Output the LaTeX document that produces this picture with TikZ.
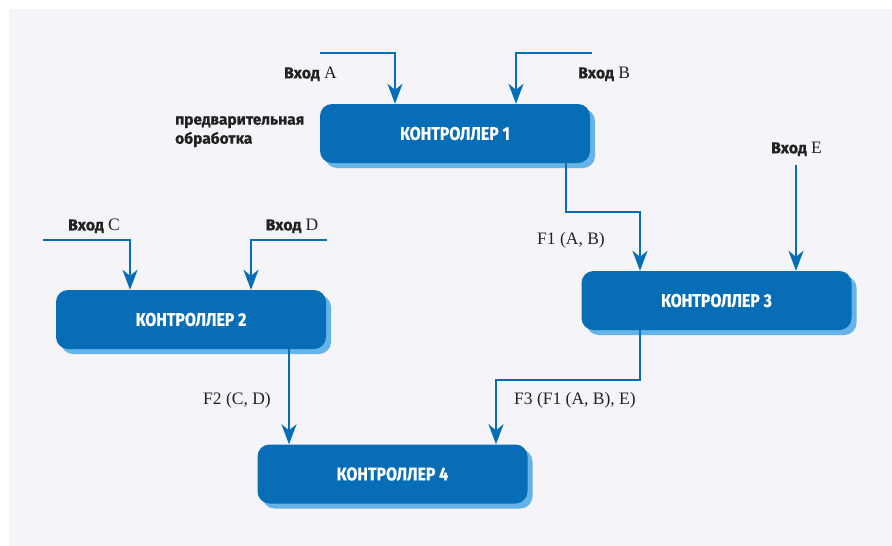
\documentclass[tikz,border=0pt]{standalone}
\usepackage{fontspec}
\setmainfont{Liberation Serif}
\newfontfamily\cond[FakeStretch=0.86, BoldFeatures={FakeBold=0.6}]{Fira Sans}
\newfontfamily\labelsans[BoldFeatures={FakeBold=0.6}]{Fira Sans}
\usetikzlibrary{arrows.meta,shadows}

\definecolor{panelbg}{HTML}{F4F4F9}
\definecolor{boxblue}{HTML}{066DB6}
\definecolor{shadeblue}{HTML}{66B3E8}
\definecolor{inkdark}{HTML}{222222}

\tikzset{
  ctrl/.style={fill=boxblue, rounded corners=12pt, minimum width=270pt,
    minimum height=59pt, inner sep=0pt, text=white,
    font=\cond\bfseries\fontsize{18.5}{20}\selectfont,
    drop shadow={shadow xshift=5pt, shadow yshift=-5pt, fill=shadeblue, opacity=1}},
  flow/.style={draw=boxblue, line width=2pt,
    -{Stealth[length=20pt, width=15pt, inset=6pt]}},
  inlabel/.style={text=inkdark, inner sep=0pt, font=\fontsize{17.5}{19}\selectfont},
  flabel/.style={text=inkdark, inner sep=0pt, font=\fontsize{17.5}{19}\selectfont},
  note/.style={text=inkdark, inner sep=0pt, align=left,
    font=\labelsans\bfseries\fontsize{15.5}{19}\selectfont}
}
\newcommand{\vxod}[1]{{\labelsans\bfseries\fontsize{16}{19}\selectfont Вход} #1}

\begin{document}
\begin{tikzpicture}[x=1pt, y=-1pt]
  \useasboundingbox (0,0) rectangle (892,546);
  % canvas and light panel
  \fill[white] (0,0) rectangle (892,546);
  \fill[panelbg] (9,9) rectangle (892,546);

  % controllers
  \node[ctrl] (k1) at (455,133.5) {КОНТРОЛЛЕР 1};
  \node[ctrl] (k2) at (191,319.5) {КОНТРОЛЛЕР 2};
  \node[ctrl] (k3) at (716.5,300.5) {КОНТРОЛЛЕР 3};
  \node[ctrl] (k4) at (392.5,474) {КОНТРОЛЛЕР 4};

  % entry points of the inputs
  \coordinate (a0) at (320,53);  \coordinate (ax) at (395,0);
  \coordinate (b0) at (592,53);  \coordinate (bx) at (516,0);
  \coordinate (c0) at (43,240);  \coordinate (cx) at (130,0);
  \coordinate (d0) at (327,240); \coordinate (dx) at (251,0);
  \coordinate (e0) at (796,165);
  % bends of the links between controllers
  \coordinate (p1) at (566,212); \coordinate (k3x) at (640,0);
  \coordinate (p2) at (289,0);
  \coordinate (p3) at (640,380); \coordinate (k4x) at (496,0);

  % input arrows
  \draw[flow] (a0) -| (ax |- k1.north);
  \draw[flow] (b0) -| (bx |- k1.north);
  \draw[flow] (c0) -| (cx |- k2.north);
  \draw[flow] (d0) -| (dx |- k2.north);
  \draw[flow] (e0) -- (e0 |- k3.north);

  % links between controllers
  \draw[flow] (p1 |- k1.south) -- (p1) -| (k3x |- k3.north);
  \draw[flow] (p2 |- k2.south) -- (p2 |- k4.north);
  \draw[flow] (p3 |- k3.south) -- (p3) -| (k4x |- k4.north);

  % input labels
  \node[inlabel, anchor=east] (la) at (337,74) {\vxod{A}};
  \node[inlabel, anchor=west] (lb) at (578,74) {\vxod{B}};
  \node[inlabel] (lc) at (94,226) {\vxod{C}};
  \node[inlabel] (ld) at (292,226) {\vxod{D}};
  \node[inlabel] (le) at (796.5,149) {\vxod{E}};

  % function labels
  \node[flabel, anchor=west] (f1) at (537,240) {F1 (A, B)};
  \node[flabel, anchor=west] (f2) at (203,400) {F2 (C, D)};
  \node[flabel, anchor=west] (f3) at (514,400) {F3 (F1 (A, B), E)};

  % side note
  \node[note, anchor=north west] (pre) at (175,116) {предварительная\\обработка};
\end{tikzpicture}
\end{document}
